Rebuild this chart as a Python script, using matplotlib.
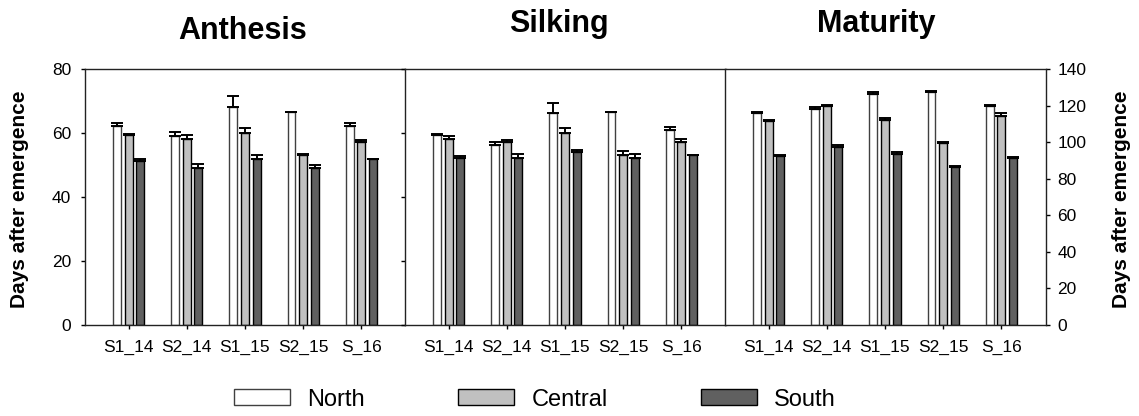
import numpy as np
from matplotlib import pyplot as plt

plt.rcParams['font.family'] = ['Liberation Sans', 'DejaVu Sans']

sowings = ['S1_14', 'S2_14', 'S1_15', 'S2_15', 'S_16']
regions = ['North', 'Central', 'South']
stages = ['Anthesis', 'Silking', 'Maturity']

# mean days after emergence, one list per region
anthesis_north = [62.3, 59.1, 68.1, 66.5, 62.3]
anthesis_central = [59.3, 58.1, 60.2, 53.2, 57.3]
anthesis_south = [51.3, 49.0, 52.0, 49.0, 52.0]
anthesis_north_err = [0.8, 1.3, 3.7, 0.2, 1.0]
anthesis_central_err = [0.4, 1.2, 1.5, 0.4, 0.6]
anthesis_south_err = [0.5, 1.3, 1.3, 1.2, 0.0]

silking_north = [59.3, 56.2, 66.2, 66.5, 61.0]
silking_central = [58.1, 57.2, 60.2, 53.1, 57.2]
silking_south = [52.1, 52.1, 54.1, 52.1, 53.2]
silking_north_err = [0.4, 1.1, 3.2, 0.2, 1.1]
silking_central_err = [0.9, 0.8, 1.5, 1.2, 1.1]
silking_south_err = [0.8, 1.5, 0.8, 1.3, 0.0]

maturity_north = [115.9, 118.1, 126.7, 127.6, 119.9]
maturity_central = [111.7, 119.9, 112.3, 99.5, 114.5]
maturity_south = [92.7, 97.5, 93.6, 86.3, 91.6]
maturity_north_err = [0.5, 1.5, 0.7, 0.7, 0.5]
maturity_central_err = [0.5, 0.5, 0.9, 0.9, 1.5]
maturity_south_err = [0.5, 0.9, 0.9, 0.9, 0.3]

datos = [
    ([anthesis_north, anthesis_central, anthesis_south],
     [anthesis_north_err, anthesis_central_err, anthesis_south_err]),
    ([silking_north, silking_central, silking_south],
     [silking_north_err, silking_central_err, silking_south_err]),
    ([maturity_north, maturity_central, maturity_south],
     [maturity_north_err, maturity_central_err, maturity_south_err]),
]

cores = ['white', '#c0c0c0', '#606060']
bordas = ['#404040', 'black', 'black']

fig = plt.figure(figsize=(11.39, 4.16), dpi=100)
W, H = 1139.0, 416.0
bottom = 1 - 325 / H
height = (325 - 69.3) / H
lefts = [85, 405, 725]
pw = 320.5

x = np.arange(len(sowings))
offsets = [-0.2, 0.0, 0.2]
largura = 0.135

for i, (vals, errs) in enumerate(datos):
    ax = fig.add_axes([lefts[i] / W, bottom, pw / W, height])
    handles = []
    for j in range(3):
        b = ax.bar(x + offsets[j], vals[j], largura, color=cores[j],
                   edgecolor=bordas[j], linewidth=1.0, zorder=2, label=regions[j])
        handles.append(b)
        ax.errorbar(x + offsets[j], vals[j],
                    yerr=[np.zeros(len(sowings)), errs[j]],
                    fmt='none', ecolor='black', elinewidth=1.4,
                    capsize=4.3, capthick=1.4, zorder=3)
    ax.set_xlim(-0.75, 4.76)
    ax.set_xticks(x)
    ax.set_xticklabels(sowings, fontsize=12.5)
    ax.tick_params(axis='x', length=3, width=1, pad=8)
    for s in ax.spines.values():
        s.set_linewidth(1.0)
        s.set_color('#222222')
    ax.spines['right'].set_visible(i == 2)

    if i < 2:
        ax.set_ylim(0, 80)
        ax.set_yticks([0, 20, 40, 60, 80])
        ax.tick_params(axis='y', length=3, width=1, pad=7, labelsize=12.5)
        if i == 1:
            ax.tick_params(axis='y', labelleft=False)
    else:
        ax.set_ylim(0, 140)
        ax.set_yticks(range(0, 141, 20))
        ax.yaxis.tick_right()
        ax.tick_params(axis='y', length=3, width=1, pad=5.5, labelsize=12.5,
                       left=False, labelleft=False, right=True, labelright=True)

# titles
fig.text(243 / W, 1 - 39 / H, 'Anthesis', ha='center', va='baseline',
         fontsize=22, fontweight='bold')
fig.text(559 / W, 1 - 32 / H, 'Silking', ha='center', va='baseline',
         fontsize=22, fontweight='bold')
fig.text(876 / W, 1 - 32 / H, 'Maturity', ha='center', va='baseline',
         fontsize=22, fontweight='bold')

fig.text(19.5 / W, 1 - 199 / H, 'Days after emergence', rotation=90,
         ha='center', va='center', fontsize=15, fontweight='bold')
fig.text(1121.7 / W, 1 - 199 / H, 'Days after emergence', rotation=90,
         ha='center', va='center', fontsize=15, fontweight='bold')

fig.legend(handles, regions, loc='center', bbox_to_anchor=(535 / W, 1 - 399.5 / H),
           ncol=3, frameon=False, fontsize=17, handlelength=2.37,
           handleheight=0.68, handletextpad=0.72, columnspacing=3.95,
           borderpad=0)

plt.savefig('out.png', dpi=100)
